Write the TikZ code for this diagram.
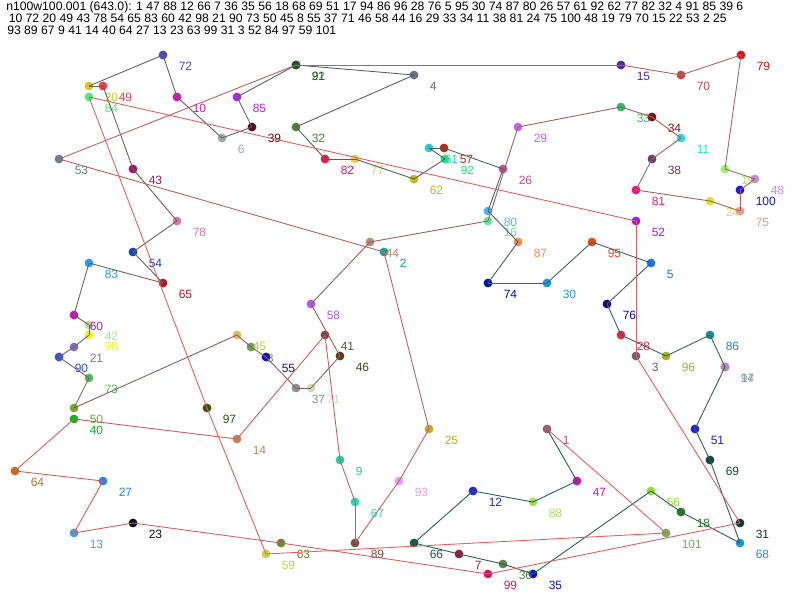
\documentclass[tikz,border=0pt]{standalone}
\usepackage{fontspec}
\setmainfont{Liberation Sans}
\definecolor{startc}{RGB}{20,95,90}
\definecolor{endc}{RGB}{238,92,92}
\begin{document}
\begin{tikzpicture}[x=0.75pt,y=-0.75pt,
  dot/.style={circle,inner sep=0pt,minimum size=6.6pt},
  lbl/.style={anchor=base west,inner sep=0pt,font=\fontsize{9}{10}\selectfont},
  hdr/.style={anchor=base west,inner sep=0pt,font=\fontsize{9.15}{10}\selectfont},
  edge/.style={line width=0.65pt}]
\fill[white] (0,0) rectangle (800,600);
\useasboundingbox (0,0) rectangle (800,600);
\node[hdr] (h1) at (6,10.5) {n100w100.001 (643.0): 1 47 88 12 66 7 36 35 56 18 68 69 51 17 94 86 96 28 76 5 95 30 74 87 80 26 57 61 92 62 77 82 32 4 91 85 39 6};
\node[hdr] (h2) at (8.5,22.5) {10 72 20 49 43 78 54 65 83 60 42 98 21 90 73 50 45 8 55 37 71 46 58 44 16 29 33 34 11 38 81 24 75 100 48 19 79 70 15 22 53 2 25};
\node[hdr] (h3) at (7,34) {93 89 67 9 41 14 40 64 27 13 23 63 99 31 3 52 84 97 59 101};
\foreach \i/\x/\y/\r/\g/\b in {
1/547/429/160/90/120, 2/384/252/30/160/140, 3/636/356/120/90/110, 4/414/75/100/110/150,
5/651/263/20/120/240, 6/222/138/150/170/170, 7/459/554/150/30/60, 8/251/347/110/160/80,
9/340/460/40/200/170, 10/177/97/220/20/180, 11/681/138/40/220/230, 12/473/491/40/40/200,
13/74/533/70/160/220, 14/237/439/200/130/90, 15/621/65/80/40/160, 16/488/221/100/230/160,
17/725/367/60/200/100, 18/681/512/40/120/40, 19/725/169/160/240/120, 20/89/86/210/200/30,
21/74/347/120/110/200, 22/296/65/100/190/100, 23/133/523/20/10/20, 24/710/201/220/230/50,
25/429/429/200/170/30, 26/503/169/200/80/140, 27/103/481/30/140/240, 28/621/335/230/40/70,
29/518/127/200/100/240, 30/547/283/30/150/220, 31/740/523/20/60/50, 32/296/127/80/130/60,
33/621/107/60/180/110, 34/652/117/120/20/20, 35/533/574/10/20/200, 36/503/564/100/130/80,
37/296/388/130/150/150, 38/652/159/110/60/100, 39/252/127/90/10/30, 40/74/419/20/180/30,
41/325/335/120/70/70, 42/89/325/180/220/150, 43/133/169/160/20/110, 44/370/242/180/140/120,
45/237/335/220/190/80, 46/340/356/90/60/30, 47/577/481/210/20/170, 48/755/179/200/140/220,
49/103/86/240/60/80, 50/74/408/120/170/50, 51/695/429/40/30/210, 52/636/221/170/20/230,
53/59/159/100/130/160, 54/133/252/20/70/180, 55/266/357/30/10/180, 56/651/491/150/220/50,
57/444/148/190/40/20, 58/311/304/180/90/230, 59/266/554/200/210/70, 60/74/315/200/20/190,
61/429/148/40/200/220, 62/414/179/190/190/20, 63/281/543/100/140/50, 64/15/471/200/110/30,
65/163/283/180/20/30, 66/414/543/20/90/70, 67/355/502/40/220/190, 68/740/543/30/150/210,
69/710/460/20/70/60, 70/681/75/200/70/70, 71/311/388/200/220/190, 72/163/55/80/70/200,
73/89/378/80/190/90, 74/488/283/0/20/160, 75/740/211/240/150/150, 76/607/304/20/10/120,
77/355/159/220/210/90, 78/177/221/220/120/170, 79/741/55/220/20/20, 80/488/211/80/180/240,
81/636/190/240/20/140, 82/325/159/240/20/80, 83/89/263/40/160/240, 84/89/97/90/230/130,
85/237/97/170/40/240, 86/710/335/30/140/160, 87/518/242/240/140/80, 88/533/502/170/220/90,
89/355/543/120/80/60, 90/59/357/50/80/220, 91/296/65/40/80/40, 92/445/159/30/230/120,
93/399/481/230/160/240, 94/725/367/190/130/200, 95/592/242/220/80/20, 96/666/356/160/180/40,
97/207/408/60/80/20, 98/89/335/240/240/40, 99/488/574/210/20/110, 100/740/190/30/20/230,
101/666/533/120/170/90}{
  \definecolor{tmp}{RGB}{\r,\g,\b}
  \node[dot,fill=tmp] (n\i) at (\x,\y) {};
  \node[lbl,text=tmp] (l\i) at (\x+15.5,\y+15) {\i};
}
\foreach \b [remember=\b as \a (initially 1), count=\k] in {47,88,12,66,7,36,35,56,18,68,69,51,17,94,86,96,28,76,5,95,30,74,87,80,26,57,61,92,62,77,82,32,4,91,85,39,6,10,72,20,49,43,78,54,65,83,60,42,98,21,90,73,50,45,8,55,37,71,46,58,44,16,29,33,34,11,38,81,24,75,100,48,19,79,70,15,22,53,2,25,93,89,67,9,41,14,40,64,27,13,23,63,99,31,3,52,84,97,59,101,1}{
  \pgfmathtruncatemacro\p{\k-1}
  \draw[edge,draw=endc!\p!startc] (n\a.center) -- (n\b.center);
}
\end{tikzpicture}
\end{document}
